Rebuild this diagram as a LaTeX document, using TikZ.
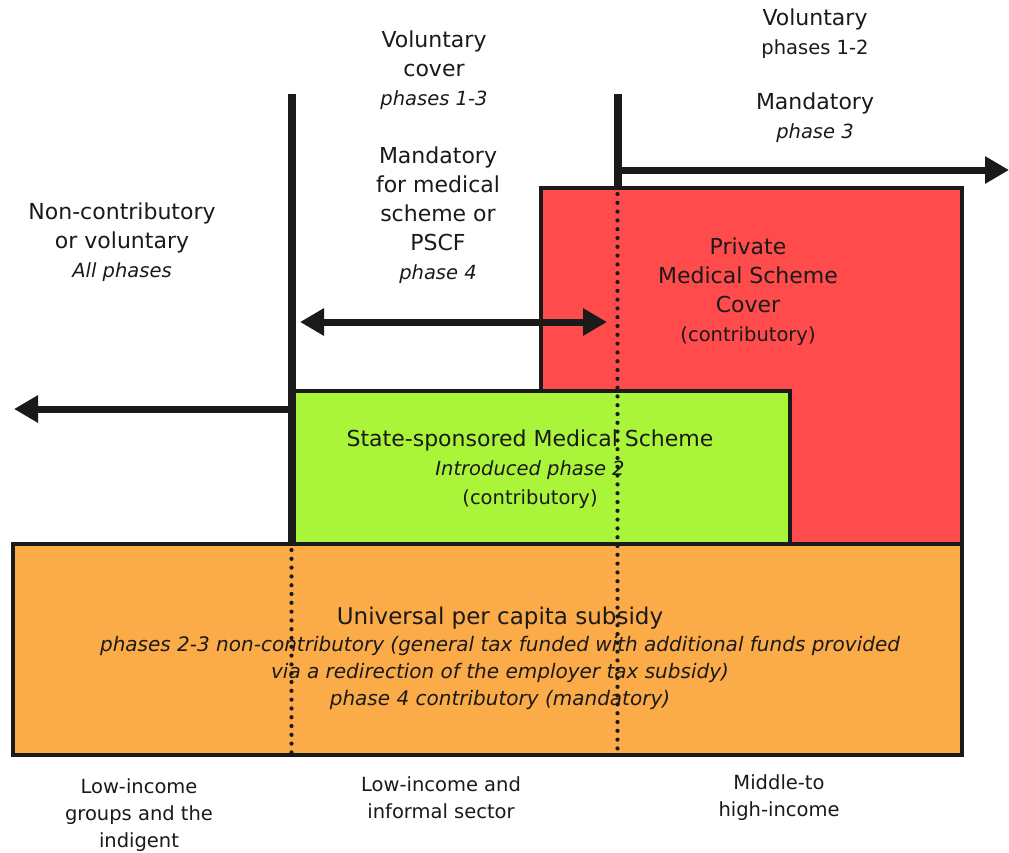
\documentclass[tikz,border=0pt]{standalone}
\usepackage{fontspec}
\setmainfont{DejaVu Sans}
\usetikzlibrary{arrows.meta}
\definecolor{redbox}{HTML}{FF4B4B}
\definecolor{greenbox}{HTML}{AAF53A}
\definecolor{orangebox}{HTML}{FBAB48}
\definecolor{ink}{HTML}{1A1A1A}
\newcommand{\smallfs}{\fontsize{19.5}{22}\selectfont}
\begin{document}
\begin{tikzpicture}[x=1pt,y=-1pt,
  box/.style={draw=ink,line width=4.5pt},
  bar/.style={draw=ink,line width=8pt},
  arr/.style={draw=ink,line width=7pt,-{Triangle[length=24pt,width=26pt]}},
  darr/.style={draw=ink,line width=7pt,{Triangle[length=24pt,width=26pt]}-{Triangle[length=24pt,width=26pt]}},
  dots/.style={draw=ink,line width=4.2pt,line cap=round,dash pattern=on 0pt off 8.8pt},
  lbl/.style={align=center,font=\fontsize{22}{29}\selectfont,text=ink,inner sep=0pt},
  lower/.style={font=\fontsize{19.5}{27}\selectfont}]
\useasboundingbox (0,0) rectangle (1009,852);
\fill[white] (0,0) rectangle (1009,852);
% boxes
\draw[box,fill=redbox] (541,188) rectangle (962,544);
\draw[box,fill=greenbox] (293,391) rectangle (790,544);
\draw[box,fill=orangebox] (13,544) rectangle (962,755);
% bars
\coordinate (lt) at (291.5,94);
\coordinate (lb) at (291.5,546);
\coordinate (rt) at (617.5,94);
\coordinate (rb) at (617.5,190);
\draw[bar] (lt) -- (lb);
\draw[bar] (rt) -- (rb);
% arrows
\coordinate (ra0) at (614,170);
\coordinate (ra1) at (1009,170);
\coordinate (la0) at (295,409);
\coordinate (la1) at (14,409);
\coordinate (da0) at (300,322);
\coordinate (da1) at (607,322);
\draw[arr] (ra0) -- (ra1);
\draw[arr] (la0) -- (la1);
\draw[darr] (da0) -- (da1);
% dotted
\coordinate (d1a) at (291.5,550);
\coordinate (d1b) at (291.5,755);
\coordinate (d2a) at (617.5,194);
\coordinate (d2b) at (617.5,755);
\draw[dots] (d1a) -- (d1b);
\draw[dots] (d2a) -- (d2b);
% texts
\node[lbl] (nc) at (122,242) {Non-contributory\\or voluntary\\{\smallfs\itshape All phases}};
\node[lbl] (vc) at (434,70) {Voluntary\\cover\\{\smallfs\itshape phases 1-3}};
\node[lbl] (mand) at (438,215) {Mandatory\\for medical\\scheme or\\PSCF\\{\smallfs\itshape phase 4}};
\node[lbl] (v12) at (815,34) {Voluntary\\{\smallfs phases 1-2}};
\node[lbl] (m3) at (815,118) {Mandatory\\{\smallfs\itshape phase 3}};
\node[lbl] (priv) at (748,292) {Private\\Medical Scheme\\Cover\\{\smallfs (contributory)}};
\node[lbl] (state) at (530,469) {State-sponsored Medical Scheme\\{\smallfs\itshape Introduced phase 2}\\{\smallfs (contributory)}};
\node[lbl,font=\fontsize{20}{27}\selectfont] (univ) at (500,658) {{\fontsize{23}{27}\selectfont Universal per capita subsidy}\\
  \itshape phases 2-3 non-contributory (general tax funded with additional funds provided\\
  \itshape via a redirection of the employer tax subsidy)\\
  \itshape phase 4 contributory (mandatory)};
\node[lbl,lower] (bl) at (139,815) {Low-income\\groups and the\\indigent};
\node[lbl,lower] (bm) at (441,798) {Low-income and\\informal sector};
\node[lbl,lower] (br) at (779,798) {Middle-to\\high-income};
\end{tikzpicture}
\end{document}
